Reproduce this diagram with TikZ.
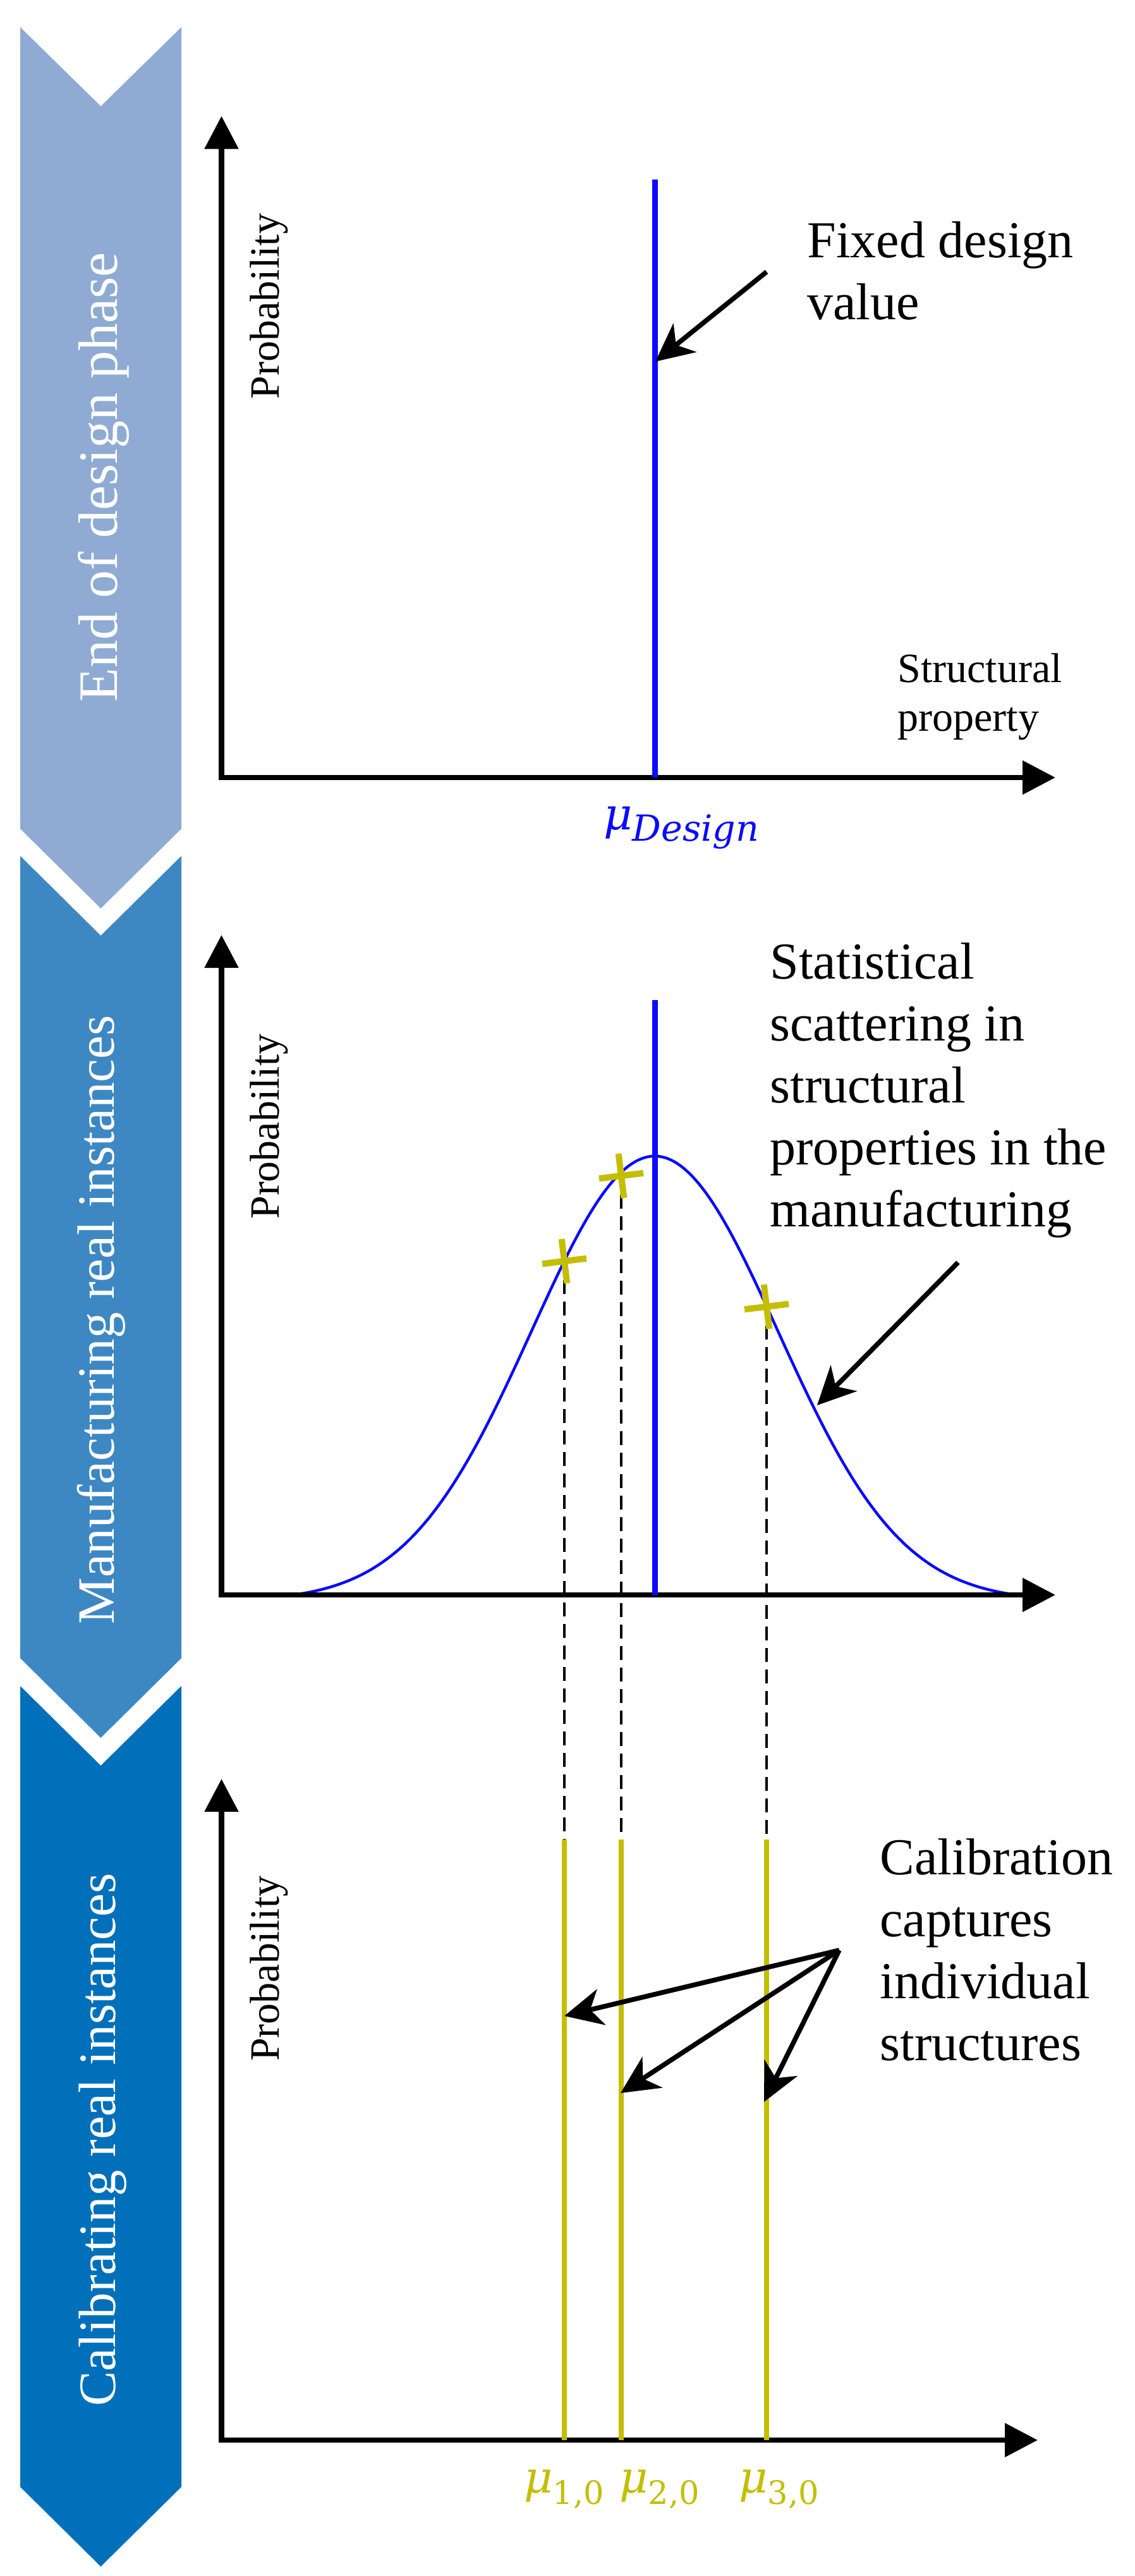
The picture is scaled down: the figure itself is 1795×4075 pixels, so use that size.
\documentclass[tikz,border=0pt]{standalone}
\usepackage{fontspec}
\setmainfont{Liberation Serif}
\newfontfamily\mufont{DejaVu Serif}
\usetikzlibrary{arrows.meta}
\definecolor{chevA}{RGB}{143,171,211}
\definecolor{chevB}{RGB}{61,136,195}
\definecolor{chevC}{RGB}{0,112,186}
\definecolor{calolive}{RGB}{196,190,0}
\definecolor{designblue}{RGB}{10,10,255}
\newcommand{\mulabel}[2]{{\mufont\itshape\fontsize{35}{40}\selectfont μ}\raisebox{-9pt}{\mufont\fontsize{#1}{30}\selectfont #2}}
\tikzset{
  axisline/.style={line width=4.3pt, line join=miter,
    {Triangle[length=26pt,width=26pt]}-{Triangle[length=26pt,width=26pt]}},
  annot/.style={line width=3.8pt, -{Stealth[length=30pt,width=29pt,inset=9pt]}},
  annottext/.style={font=\fontsize{41}{49}\selectfont, align=left, inner sep=0pt, anchor=base west},
  axistext/.style={font=\fontsize{33}{38.5}\selectfont, align=left, inner sep=0pt},
  probtext/.style={font=\fontsize{33}{38.5}\selectfont, inner sep=0pt, rotate=90, anchor=base},
  chevtext/.style={text=white, inner sep=0pt, rotate=90, anchor=base},
  designline/.style={designblue, line width=4.5pt},
  gauss/.style={designblue, line width=2.2pt},
  oliveline/.style={calolive, line width=4.4pt},
  dropline/.style={black, line width=2.2pt, dash pattern=on 11pt off 6pt},
  crossline/.style={calolive, line width=5pt},
  xmark/.pic={\draw[crossline] (-35,4.3)--(35,-4.3); \draw[crossline] (-4.3,-35)--(4.3,35);},
  mutext/.style={inner sep=0pt, anchor=base west}
}
\begin{document}
\begin{tikzpicture}[x=0.5pt,y=-0.5pt]
\useasboundingbox[fill=white] (0,0) rectangle (1795,4075);
% chevrons
\fill[chevA] (32,43) -- (159.5,168) -- (287,43) -- (287,1311) -- (159.5,1437) -- (32,1311) -- cycle;
\fill[chevB] (32,1354) -- (159.5,1480) -- (287,1354) -- (287,2623) -- (159.5,2749) -- (32,2623) -- cycle;
\fill[chevC] (32,2667) -- (159.5,2793) -- (287,2667) -- (287,3934) -- (159.5,4060) -- (32,3934) -- cycle;
\node[chevtext, font=\fontsize{44}{50}\selectfont] (chev1) at (185,755) {End of design phase};
\node[chevtext, font=\fontsize{41.5}{48}\selectfont] (chev2) at (180,2088) {Manufacturing real instances};
\node[chevtext, font=\fontsize{41.5}{48}\selectfont] (chev3) at (182,3385) {Calibrating real instances};

% ---------- panel 1
\coordinate (p1top) at (350.5,183.5);
\coordinate (p1o) at (350.5,1230);
\coordinate (p1right) at (1670,1230);
\draw[axisline] (p1top) -- (p1o) -- (p1right);
\coordinate (d1top) at (1036,284);
\coordinate (d1bot) at (1036,1230);
\draw[designline] (d1top) -- (d1bot);
\node[probtext] (prob1) at (441,484.5) {Probability};
\node[axistext, anchor=base west] (struct) at (1420,1156) {Structural\\property};
\node[annottext] (fixed) at (1277,505) {Fixed design\\value};
\coordinate (fixedfrom) at (1213,430);
\coordinate (fixedto) at (1037,572);
\draw[annot] (fixedfrom) -- (fixedto);
\node[mutext, text=designblue] (mudesign) at (955,1312) {\mulabel{28.5}{\itshape Design}};

% ---------- panel 2
\coordinate (p2top) at (350.5,1479);
\coordinate (p2o) at (350.5,2523);
\coordinate (p2right) at (1670,2523);
\draw[gauss] plot[domain=464:1608, samples=241, smooth] (\x, {2523 - 694*(exp(-0.5*((\x-1036)/195)*((\x-1036)/195)) - 0.01354)/0.98646});
\draw[axisline] (p2top) -- (p2o) -- (p2right);
\coordinate (d2top) at (1036,1582);
\coordinate (d2bot) at (1036,2523);
\draw[designline] (d2top) -- (d2bot);
\node[probtext] (prob2) at (441,1782) {Probability};
\node[annottext] (scatter) at (1218,1940) {Statistical\\scattering in\\structural\\properties in the\\manufacturing};
\coordinate (scatfrom) at (1516,1997);
\coordinate (scatto) at (1293,2223);
\draw[annot] (scatfrom) -- (scatto);
% samples
\coordinate (s1) at (893,1995);
\coordinate (s2) at (983,1860);
\coordinate (s3) at (1213,2067);
\coordinate (m1top) at (893,2910);
\coordinate (m2top) at (983,2910);
\coordinate (m3top) at (1213,2910);
\draw[dropline] ([yshift=-15pt]s1) -- (m1top);
\draw[dropline] ([yshift=-15pt]s2) -- (m2top);
\draw[dropline] ([yshift=-15pt]s3) -- (m3top);
\pic at (s1) {xmark};
\pic at (s2) {xmark};
\pic at (s3) {xmark};

% ---------- panel 3
\coordinate (p3top) at (350.5,2814);
\coordinate (p3o) at (350.5,3860);
\coordinate (p3right) at (1642,3860);
\draw[axisline] (p3top) -- (p3o) -- (p3right);
\coordinate (m1bot) at (893,3860);
\coordinate (m2bot) at (983,3860);
\coordinate (m3bot) at (1213,3860);
\draw[oliveline] (m1top) -- (m1bot);
\draw[oliveline] (m2top) -- (m2bot);
\draw[oliveline] (m3top) -- (m3bot);
\node[probtext] (prob3) at (441,3114) {Probability};
\node[annottext] (calib) at (1392,3259) {Calibration\\captures\\individual\\structures};
\coordinate (calfrom) at (1328,3085);
\coordinate (cal1) at (893,3189);
\coordinate (cal2) at (982,3311);
\coordinate (cal3) at (1209,3325);
\draw[annot] (calfrom) -- (cal1);
\draw[annot] (calfrom) -- (cal2);
\draw[annot] (calfrom) -- (cal3);
\node[mutext, text=calolive] (mu1) at (829,3943) {\mulabel{25.5}{1,0}};
\node[mutext, text=calolive] (mu2) at (980,3943) {\mulabel{25.5}{2,0}};
\node[mutext, text=calolive] (mu3) at (1169,3943) {\mulabel{25.5}{3,0}};
\end{tikzpicture}
\end{document}
